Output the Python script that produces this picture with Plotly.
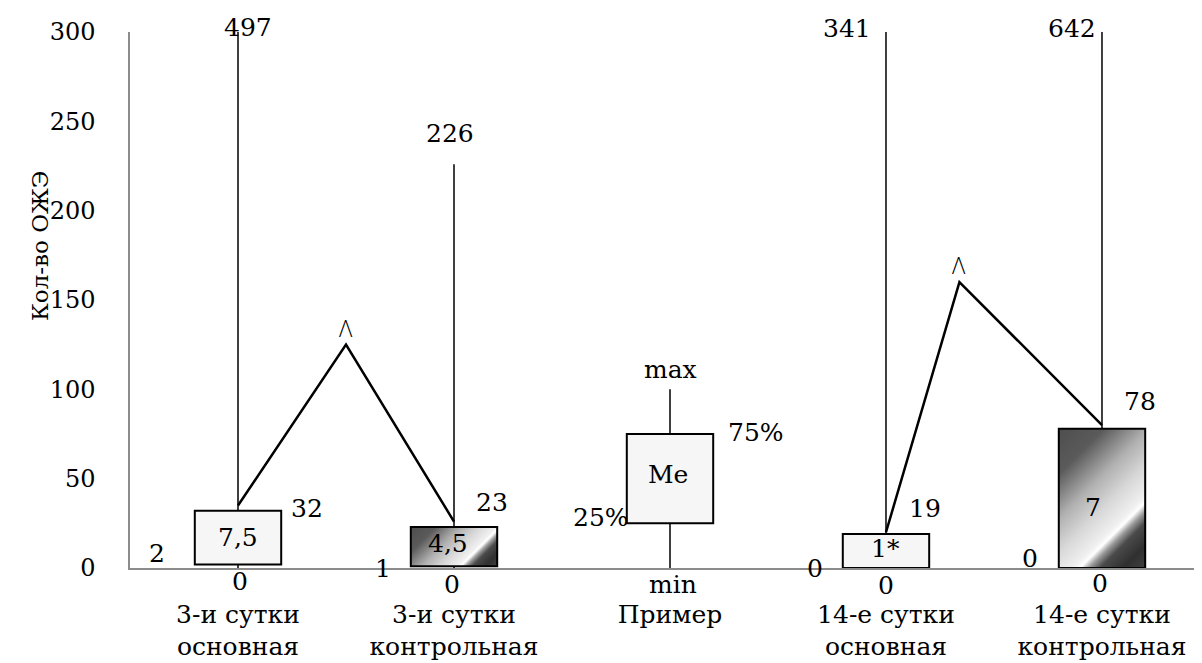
import base64
import plotly.graph_objects as go

# ---------------- data ----------------
categories = ["3-и сутки<br>основная", "3-и сутки<br>контрольная", "Пример",
              "14-е сутки<br>основная", "14-е сутки<br>контрольная"]
mins = [0, 0, 0, 0, 0]
q1 = [2, 1, 25, 0, 0]
q3 = [32, 23, 75, 19, 78]
maxs = [497, 226, 100, 341, 642]
min_labels = ["0", "0", "min", "0", "0"]
q1_labels = ["2", "1", "25%", "0", "0"]
median_labels = ["7,5", "4,5", "Me", "1*", "7"]
q3_labels = ["32", "23", "75%", "19", "78"]
max_labels = ["497", "226", "max", "341", "642"]
gradient_boxes = [False, True, False, False, True]

# significance connectors (start, peak, end)
conn1_x = [0, 0.5, 1]
conn1_y = [35, 125, 26]
conn2_x = [3, 3.34, 4]
conn2_y = [20, 160, 80]
conn_mark = "Λ"

y_max = 300
y_title = "Кол-во ОЖЭ"

# ---------------- style ----------------
FONT = "DejaVu Serif"
PAGE_OFF = 8  # default body margin of the html page
W_FIG, H_FIG = 1202 - PAGE_OFF, 663 - PAGE_OFF
M_L, M_R, M_T, M_B = 130 - PAGE_OFF, 0, 32 - PAGE_OFF, 95
X_RANGE = [-0.5, 4.463]
BOX_W = 0.4
plot_w = W_FIG - M_L - M_R
plot_h = H_FIG - M_T - M_B
px_per_x = plot_w / (X_RANGE[1] - X_RANGE[0])
px_per_y = plot_h / y_max

shifts = {
    "max": [(10, 5), (-4, 31), (0, 20), (-39, 4), (-30, 4)],
    "q3": [(69, 2), (38, 24), (86, 2), (39, 26), (38, 27)],
    "q1": [(-81, 11), (-71, -2), (-69, 6), (-71, 0), (-72, 10)],
    "me": [(0, 0), (-6, 3), (-2, 4), (0, 3), (-9, -9)],
    "min": [(2, -13), (-2, -16), (3, -16), (0, -17), (-2, -15)],
}

STOPS = [(0, "#4e4e4e"), (0.2, "#5a5a5a"), (0.4, "#b0b0b0"), (0.55, "#d8d8d8"),
         (0.68, "#f0f0f0"), (0.71, "#ffffff"), (0.75, "#9a9a9a"), (0.8, "#4a4a4a"),
         (0.9, "#303030"), (1, "#404040")]


def gradient_uri(w, h):
    d = (w + h) / 2
    stops = "".join(f'<stop offset="{o}" stop-color="{c}"/>' for o, c in STOPS)
    svg = (f'<svg xmlns="http://www.w3.org/2000/svg" width="{w:.1f}" height="{h:.1f}" '
           f'viewBox="0 0 {w:.1f} {h:.1f}" preserveAspectRatio="none">'
           f'<defs><linearGradient id="g" gradientUnits="userSpaceOnUse" x1="0" y1="0" '
           f'x2="{d:.1f}" y2="{d:.1f}">{stops}</linearGradient></defs>'
           f'<rect width="{w:.1f}" height="{h:.1f}" fill="url(#g)"/></svg>')
    return "data:image/svg+xml;base64," + base64.b64encode(svg.encode()).decode()


fig = go.Figure()
xs = list(range(len(categories)))

# whiskers
for i in xs:
    fig.add_trace(go.Scatter(x=[i, i, None, i, i], y=[mins[i], q1[i], None, q3[i], maxs[i]],
                             mode="lines", line=dict(color="black", width=1.5),
                             hoverinfo="skip", showlegend=False))

# boxes
fig.add_trace(go.Bar(
    x=xs, base=q1, y=[b - a for a, b in zip(q1, q3)], width=BOX_W,
    marker=dict(color=["rgba(0,0,0,0)" if g else "#f6f6f6" for g in gradient_boxes],
                line=dict(color="black", width=2)),
    hoverinfo="skip", showlegend=False))

images = []
for i in xs:
    if gradient_boxes[i]:
        h = q3[i] - q1[i]
        images.append(dict(source=gradient_uri(BOX_W * px_per_x, h * px_per_y),
                           xref="x", yref="y", x=i - BOX_W / 2, y=q3[i],
                           sizex=BOX_W, sizey=h, xanchor="left", yanchor="top",
                           sizing="stretch", layer="below"))

# connectors
for cx, cy in [(conn1_x, conn1_y), (conn2_x, conn2_y)]:
    fig.add_trace(go.Scatter(x=cx, y=cy, mode="lines", line=dict(color="black", width=2.5),
                             hoverinfo="skip", showlegend=False))

ann = []
LF = dict(family=FONT, size=25, color="black")


def add_label(x, y, text, sh):
    ann.append(dict(x=x, y=y, xref="x", yref="y", text=text, showarrow=False,
                    xanchor="center", yanchor="middle", xshift=sh[0], yshift=sh[1], font=LF))


for i in xs:
    add_label(i, min(maxs[i], y_max), max_labels[i], shifts["max"][i])
    add_label(i, q3[i], q3_labels[i], shifts["q3"][i])
    add_label(i, q1[i], q1_labels[i], shifts["q1"][i])
    add_label(i, (q1[i] + q3[i]) / 2, median_labels[i], shifts["me"][i])
    add_label(i, mins[i], min_labels[i], shifts["min"][i])

for cx, cy in [(conn1_x, conn1_y), (conn2_x, conn2_y)]:
    ann.append(dict(x=cx[1], y=cy[1], xref="x", yref="y", text=conn_mark, showarrow=False,
                    yshift=17, font=dict(family="Open Sans", size=23, color="black", weight=300)))

ann.append(dict(x=(25 - 130) / plot_w, y=(568 - 246) / plot_h, xref="paper", yref="paper",
                text=y_title, textangle=-90, showarrow=False,
                font=dict(family=FONT, size=23, color="black")))

fig.update_layout(
    width=W_FIG, height=H_FIG,
    margin=dict(l=M_L, r=M_R, t=M_T, b=M_B, autoexpand=False),
    paper_bgcolor="white", plot_bgcolor="white",
    font=dict(family=FONT),
    images=images, annotations=ann, barmode="overlay", showlegend=False,
    xaxis=dict(range=X_RANGE, tickvals=xs, ticktext=categories, showgrid=False, zeroline=False,
               showline=True, linecolor="#8c8c8c", linewidth=1.5, ticks="", automargin=False,
               ticklabelstandoff=23, tickfont=dict(family=FONT, size=25, color="black")),
    yaxis=dict(range=[0, y_max], dtick=50, showgrid=False, zeroline=False, automargin=False,
               showline=True, linecolor="#8c8c8c", linewidth=1.5, ticks="",
               ticklabelstandoff=28, tickfont=dict(family=FONT, size=24, color="black")),
)

fig.write_html("out.html")
